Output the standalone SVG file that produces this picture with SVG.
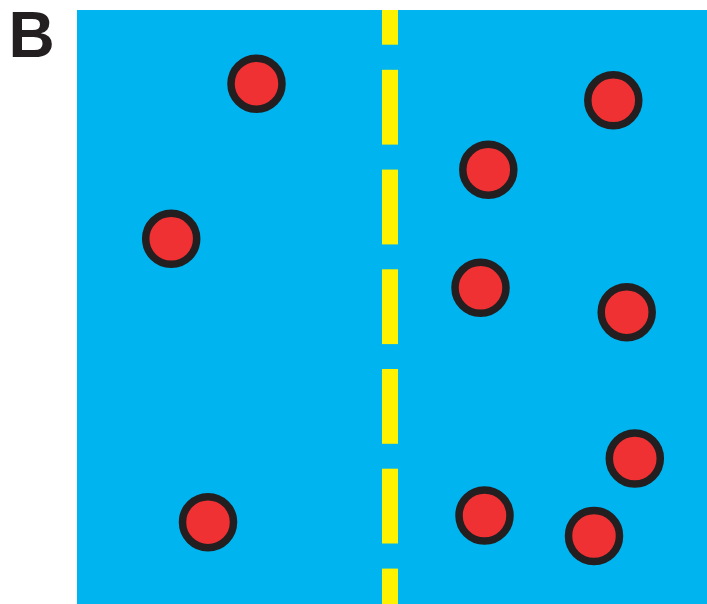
<svg xmlns="http://www.w3.org/2000/svg" width="707" height="604" viewBox="0 0 707 604">
<style>
.bg{fill:#00b4ef}
.dash{fill:#fff200}
.dot{fill:#ef3134;stroke:#231f20;stroke-width:7.5}
.lbl{font-family:"Liberation Sans",Arial,sans-serif;font-weight:bold;font-size:64px;fill:#231f20}
</style>
<rect width="707" height="604" fill="#ffffff"/>
<text class="lbl" x="8.5" y="56.5">B</text>
<rect class="bg" x="77" y="10" width="630" height="594"/>
<g id="membrane">
<rect class="dash" x="382" y="10" width="16" height="34.7"/>
<rect class="dash" x="382" y="69.8" width="16" height="74.8"/>
<rect class="dash" x="382" y="169.6" width="16" height="74.8"/>
<rect class="dash" x="382" y="269.3" width="16" height="74.8"/>
<rect class="dash" x="382" y="369" width="16" height="74.8"/>
<rect class="dash" x="382" y="468.7" width="16" height="74.8"/>
<rect class="dash" x="382" y="568.6" width="16" height="35.4"/>
</g>
<g id="p1"><circle class="dot" cx="256.5" cy="83.7" r="25.5"/></g>
<g id="p2"><circle class="dot" cx="171.2" cy="238.8" r="25.5"/></g>
<g id="p3"><circle class="dot" cx="208" cy="522.2" r="25.5"/></g>
<g id="p4"><circle class="dot" cx="613.3" cy="100.3" r="25.5"/></g>
<g id="p5"><circle class="dot" cx="488.3" cy="169.7" r="25.5"/></g>
<g id="p6"><circle class="dot" cx="480.5" cy="287.8" r="25.5"/></g>
<g id="p7"><circle class="dot" cx="626.7" cy="312.2" r="25.5"/></g>
<g id="p8"><circle class="dot" cx="634.8" cy="458.5" r="25.5"/></g>
<g id="p9"><circle class="dot" cx="484.5" cy="515.5" r="25.5"/></g>
<g id="p10"><circle class="dot" cx="594" cy="536" r="25.5"/></g>
</svg>
